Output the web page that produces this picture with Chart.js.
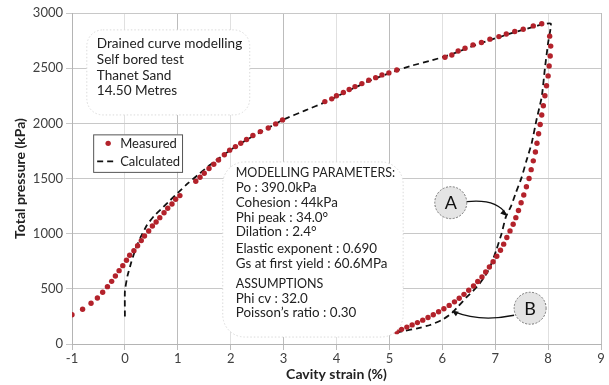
<!DOCTYPE html>
<html>
<head>
<meta charset="utf-8">
<script src="https://cdn.jsdelivr.net/npm/chart.js@4.4.1/dist/chart.umd.min.js"></script>
<style>
  html, body { margin: 0; padding: 0; background: #fff; }
  #wrap { width: 609px; height: 385px; }
</style>
</head>
<body>
<div id="wrap"><canvas id="chart" width="609" height="385"></canvas></div>
<script>
// Pressuremeter test: measured points and the calculated (modelled) curve
const xTicks = [-1, 0, 1, 2, 3, 4, 5, 6, 7, 8, 9];
const yTicks = [0, 500, 1000, 1500, 2000, 2500, 3000];

// measured: loading then unloading
const measuredStrain = [
  -1.00, -0.80, -0.64, -0.52, -0.42, -0.33, -0.25, -0.18, -0.11, -0.04, 0.03, 0.09, 0.17, 0.24, 0.31, 0.37,
  0.45, 0.52, 0.59, 0.66, 0.74, 0.81, 0.89, 0.96, 1.04,
  1.34, 1.42, 1.50, 1.59, 1.68, 1.77, 1.88, 1.98, 2.09, 2.19, 2.30, 2.42, 2.56, 2.71, 2.85, 2.98,
  3.78, 3.91, 4.00, 4.13, 4.24, 4.35, 4.48, 4.61, 4.74, 4.86, 4.99, 5.14,
  6.05, 6.18, 6.30, 6.43, 6.58, 6.74, 6.90, 7.07, 7.21, 7.37, 7.53, 7.72, 7.88,
  8.03, 8.05, 8.04, 8.02, 8.00, 7.97, 7.94, 7.91, 7.88, 7.85, 7.82, 7.79, 7.76, 7.72, 7.68, 7.64,
  7.59, 7.54, 7.49, 7.44, 7.39, 7.34, 7.28, 7.22, 7.16, 7.10, 7.03, 6.96, 6.89, 6.82, 6.75, 6.67,
  6.59, 6.50, 6.41, 6.32, 6.23, 6.13, 6.03, 5.93, 5.83, 5.73, 5.63, 5.53, 5.43, 5.33, 5.23, 5.14
];
const measuredPressure = [
  265, 315, 369, 417, 469, 520, 568, 616, 665, 710, 759, 804, 846, 891, 937, 979,
  1024, 1070, 1106, 1145, 1190, 1230, 1269, 1312, 1345,
  1475, 1511, 1548, 1590, 1629, 1668, 1715, 1757, 1789, 1820, 1853, 1890, 1925, 1958, 1995, 2031,
  2197, 2222, 2250, 2280, 2306, 2333, 2360, 2390, 2414, 2439, 2457, 2484,
  2599, 2620, 2655, 2681, 2711, 2732, 2763, 2786, 2810, 2832, 2853, 2883, 2903,
  2790, 2700, 2610, 2520, 2430, 2340, 2250, 2160, 2075, 1990, 1905, 1820, 1740, 1660, 1580, 1500,
  1425, 1350, 1280, 1210, 1145, 1085, 1025, 965, 905, 850, 795, 745, 698, 652, 608, 566,
  526, 487, 450, 415, 382, 350, 320, 292, 265, 240, 216, 194, 173, 153, 133, 112
];

// calculated curve: loading then unloading
const calcStrain = [
  0, 0, 0.05, 0.12, 0.20, 0.30, 0.42, 0.55, 0.70, 0.85, 1.00, 1.20, 1.40, 1.60, 1.80, 2.00, 2.30, 2.60,
  3.00, 3.40, 3.80, 4.20, 4.60, 5.00, 5.40, 5.80, 6.20, 6.60, 7.00, 7.40, 7.80, 8.05,
  8.00, 7.94, 7.88, 7.78, 7.69, 7.59, 7.50, 7.39, 7.30, 7.20, 7.12, 7.02, 6.93, 6.84, 6.71, 6.58,
  6.46, 6.30, 6.18, 6.00, 5.77, 5.51, 5.29, 5.14
];
const calcPressure = [
  250, 480, 620, 740, 860, 970, 1080, 1160, 1230, 1300, 1370, 1460, 1540, 1620, 1690, 1760, 1850, 1930,
  2035, 2115, 2195, 2290, 2380, 2455, 2520, 2570, 2630, 2705, 2770, 2830, 2885, 2905,
  2730, 2500, 2240, 2030, 1820, 1660, 1510, 1370, 1250, 1150, 1000, 850, 730, 640, 550, 480,
  425, 340, 280, 220, 172, 140, 120, 103
];

const infoLines = ["Drained curve modelling", "Self bored test", "Thanet Sand", "14.50 Metres"];
const paramLines = [
  "MODELLING PARAMETERS:", "Po : 390.0kPa", "Cohesion : 44kPa", "Phi peak : 34.0°", "Dilation : 2.4°",
  "Elastic exponent : 0.690", "Gs at first yield : 60.6MPa"
];
const assumptionLines = ["ASSUMPTIONS", "Phi cv : 32.0", "Poisson’s ratio : 0.30"];

const FONT = "Lato, 'Open Sans', sans-serif";
const RED = "#b3222b";

const zip = (xs, ys) => xs.map((x, i) => ({ x, y: ys[i] }));

function roundBox(ctx, x, y, w, h, r) {
  ctx.beginPath();
  ctx.moveTo(x + r, y);
  ctx.arcTo(x + w, y, x + w, y + h, r);
  ctx.arcTo(x + w, y + h, x, y + h, r);
  ctx.arcTo(x, y + h, x, y, r);
  ctx.arcTo(x, y, x + w, y, r);
  ctx.closePath();
  ctx.fillStyle = "#fff";
  ctx.fill();
  ctx.strokeStyle = "#dadada";
  ctx.setLineDash([1.5, 2]);
  ctx.lineWidth = 1;
  ctx.stroke();
  ctx.setLineDash([]);
}

function arrowHead(ctx, x, y, ang) {
  ctx.beginPath();
  ctx.moveTo(x, y);
  ctx.lineTo(x - 7 * Math.cos(ang - 0.4), y - 7 * Math.sin(ang - 0.4));
  ctx.lineTo(x - 7 * Math.cos(ang + 0.4), y - 7 * Math.sin(ang + 0.4));
  ctx.closePath();
  ctx.fillStyle = "#111";
  ctx.fill();
}

function label(ctx, cx, cy, txt) {
  ctx.beginPath();
  ctx.arc(cx, cy, 16, 0, Math.PI * 2);
  ctx.fillStyle = "#e4e4e4";
  ctx.fill();
  ctx.strokeStyle = "#777";
  ctx.setLineDash([2, 1.5]);
  ctx.lineWidth = 1;
  ctx.stroke();
  ctx.setLineDash([]);
  ctx.fillStyle = "#111";
  ctx.font = "18px " + FONT;
  ctx.textAlign = "center";
  ctx.textBaseline = "middle";
  ctx.fillText(txt, cx, cy + 1);
}

// caps-only headings are set a bit smaller so they keep the reference width
const headFont = t => (t === t.toUpperCase() ? "12.5px " : "13.4px ") + FONT;

const notes = {
  id: "notes",
  afterDatasetsDraw(chart) {
    const { ctx, scales: { x, y } } = chart;
    const X = v => x.getPixelForValue(v);
    const Y = v => y.getPixelForValue(v);
    ctx.save();

    // info box
    let bx = X(-0.72), by = Y(2847);
    roundBox(ctx, bx, by, X(2.36) - bx, Y(2076) - by, 16);
    ctx.fillStyle = "#222";
    ctx.font = "13.6px " + FONT;
    ctx.textAlign = "left";
    ctx.textBaseline = "middle";
    infoLines.forEach((t, i) => ctx.fillText(t, bx + 10, by + 14 + i * 15.7));

    // parameters box
    bx = X(1.85); by = Y(1650);
    roundBox(ctx, bx, by, X(5.26) - bx, Y(63) - by, 22);
    ctx.fillStyle = "#222";
    paramLines.forEach((t, i) => {
      ctx.font = headFont(t);
      ctx.fillText(t, bx + 13, by + 11 + i * 14.8 + (i > 4 ? 1.5 : 0));
    });
    assumptionLines.forEach((t, i) => {
      ctx.font = headFont(t);
      ctx.fillText(t, bx + 13, by + 122 + i * 14.4);
    });

    // legend
    const lx = X(-0.6), ly = Y(1900);
    const lw = X(1.08) - lx, lh = Y(1560) - ly;
    ctx.fillStyle = "#fff";
    ctx.fillRect(lx, ly, lw, lh);
    ctx.strokeStyle = "#555";
    ctx.lineWidth = 1;
    ctx.strokeRect(lx + 0.5, ly + 0.5, lw, lh);
    const ds = chart.data.datasets;
    ctx.beginPath();
    ctx.arc(lx + 15, ly + 9, 2.7, 0, Math.PI * 2);
    ctx.fillStyle = ds[0].backgroundColor;
    ctx.fill();
    ctx.beginPath();
    ctx.setLineDash([6, 4]);
    ctx.strokeStyle = ds[1].borderColor;
    ctx.lineWidth = 1.8;
    ctx.moveTo(lx + 4, ly + 27);
    ctx.lineTo(lx + 23, ly + 27);
    ctx.stroke();
    ctx.setLineDash([]);
    ctx.fillStyle = "#222";
    ctx.font = "13px " + FONT;
    ctx.fillText(ds[0].label, lx + 27, ly + 9);
    ctx.fillText(ds[1].label, lx + 27, ly + 27);

    // A / B callouts
    ctx.strokeStyle = "#111";
    ctx.lineWidth = 1.3;
    let ax = X(6.16), ay = Y(1281);
    ctx.beginPath();
    ctx.moveTo(ax + 16, ay - 1);
    ctx.quadraticCurveTo(ax + 46, ay - 4, X(7.22) - 1, Y(1160) - 2);
    ctx.stroke();
    arrowHead(ctx, X(7.22), Y(1160), 0.75);
    label(ctx, ax, ay, "A");

    ax = X(7.66); ay = Y(324);
    ctx.strokeStyle = "#111";
    ctx.lineWidth = 1.3;
    ctx.beginPath();
    ctx.moveTo(ax - 16, ay + 7);
    ctx.quadraticCurveTo(ax - 50, ay + 14, X(6.18) + 2, Y(302) + 1);
    ctx.stroke();
    arrowHead(ctx, X(6.18), Y(302), Math.PI + 0.55);
    label(ctx, ax, ay, "B");

    ctx.restore();
  }
};

new Chart(document.getElementById("chart"), {
  type: "scatter",
  data: {
    datasets: [
      {
        label: "Measured",
        data: zip(measuredStrain, measuredPressure),
        backgroundColor: RED,
        borderWidth: 0,
        pointRadius: 2.7,
        showLine: false,
        order: 1
      },
      {
        label: "Calculated",
        data: zip(calcStrain, calcPressure),
        borderColor: "#111",
        borderWidth: 1.8,
        borderDash: [6, 4],
        pointRadius: 0,
        showLine: true,
        tension: 0.15,
        order: 2
      }
    ]
  },
  options: {
    responsive: false,
    animation: false,
    layout: { padding: { top: 13, right: 8, left: 0, bottom: 0 } },
    plugins: { legend: { display: false }, tooltip: { enabled: false } },
    scales: {
      x: {
        type: "linear",
        min: -1,
        max: 9,
        afterBuildTicks: s => { s.ticks = xTicks.map(v => ({ value: v })); },
        afterFit: s => { s.height = 41; },
        ticks: { color: "#404040", font: { family: FONT, size: 13 }, padding: 1, callback: v => String(v) },
        grid: {
          color: c => (Math.abs(c.tick.value) % 2 === 1 ? "#bcbcbc" : "#e0e0e0"),
          tickLength: 6,
          tickColor: "#bcbcbc"
        },
        border: { color: "#b4b4b4" },
        title: {
          display: true,
          text: "Cavity strain (%)",
          color: "#222",
          font: { family: FONT, size: 14, weight: "bold" },
          padding: { top: 0, bottom: 2 }
        }
      },
      y: {
        min: 0,
        max: 3000,
        afterBuildTicks: s => { s.ticks = yTicks.map(v => ({ value: v })); },
        afterFit: s => { s.width = 72; },
        ticks: { color: "#404040", font: { family: FONT, size: 13 }, padding: 3, callback: v => String(v) },
        grid: { color: "#c8c8c8", tickLength: 6, tickColor: "#c8c8c8" },
        border: { color: "#b4b4b4" },
        title: {
          display: true,
          text: "Total pressure (kPa)",
          color: "#222",
          font: { family: FONT, size: 14, weight: "bold" },
          padding: { top: 12, bottom: 0 }
        }
      }
    }
  },
  plugins: [notes]
});
</script>
</body>
</html>
